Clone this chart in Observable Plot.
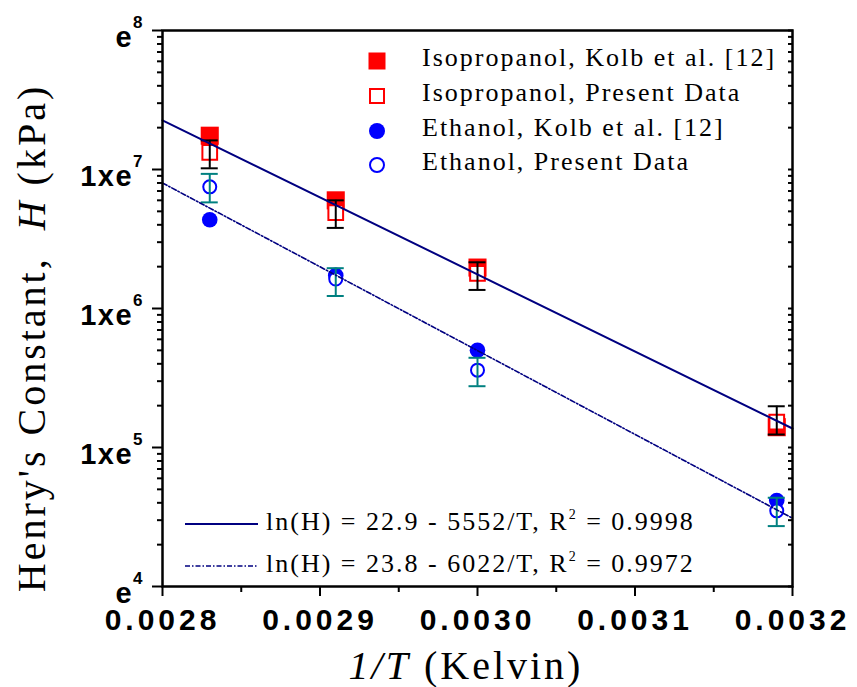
<!DOCTYPE html>
<html><head><meta charset="utf-8">
<script src="https://cdn.jsdelivr.net/npm/d3@7"></script>
<script src="https://cdn.jsdelivr.net/npm/@observablehq/plot@0.6"></script>
<style>body{margin:0;background:#fff}#chart svg{display:block}</style>
</head><body><div id="chart"></div>
<script>
// ---- data ----
const xValues = [0.00283, 0.00291, 0.00300, 0.00319];
const isoKolb = [1.75e7, 6.0e6, 1.97e6, 1.40e5];
const isoPresent = [1.33e7, 4.9e6, 1.79e6, 1.52e5];
const isoErrLow = [1.02e7, 3.8e6, 1.36e6, 1.24e5];
const isoErrHigh = [1.62e7, 6.0e6, 2.15e6, 1.98e5];
const ethKolb = [4.35e6, 1.73e6, 5.0e5, 4.15e4];
const ethPresent = [7.5e6, 1.63e6, 3.6e5, 3.5e4];
const ethErrLow = [5.8e6, 1.23e6, 2.76e5, 2.72e4];
const ethErrHigh = [9.3e6, 1.95e6, 4.42e5, 4.35e4];

const fitX = [0.0028, 0.0032];
const fitIso = [2.26e7, 1.37e5];
const fitEth = [8.0e6, 3.1e4];

const xTicks = [0.0028, 0.0029, 0.0030, 0.0031, 0.0032];
const xTickLabels = ["0.0028", "0.0029", "0.0030", "0.0031", "0.0032"];
const xMinorTicks = [0.00285, 0.00295, 0.00305, 0.00315];
const yTicks = [1e4, 1e5, 1e6, 1e7, 1e8];
const yTickBase = ["e", "1xe", "1xe", "1xe", "e"];
const yTickExp = ["4", "5", "6", "7", "8"];
const yMinorMantissa = [2, 3, 4, 5, 6, 7, 8, 9];
const yMinorDecades = [1e4, 1e5, 1e6, 1e7];

const legendLabels = ["Isopropanol, Kolb et al. [12]", "Isopropanol, Present Data", "Ethanol, Kolb et al. [12]", "Ethanol, Present Data"];
const fitLabels = [["ln(H) = 22.9 - 5552/T, R", "2", " = 0.9998"], ["ln(H) = 23.8 - 6022/T, R", "2", " = 0.9972"]];
const yTitle = ["Henry's Constant,  ", "H", " (kPa)"];
const xTitle = ["1/T", " (Kelvin)"];

// ---- build tables ----
const pts = xValues.map((x, i) => ({
  x, isoKolb: isoKolb[i], isoPresent: isoPresent[i], isoLo: isoErrLow[i], isoHi: isoErrHigh[i],
  ethKolb: ethKolb[i], ethPresent: ethPresent[i], ethLo: ethErrLow[i], ethHi: ethErrHigh[i]
}));
const fit1 = fitX.map((x, i) => ({x, y: fitIso[i]}));
const fit2 = fitX.map((x, i) => ({x, y: fitEth[i]}));
const yMinor = yMinorDecades.flatMap(d => yMinorMantissa.map(m => m * d));

const NAVY = "#000080", TEAL = "#008080";
const sans = "'Liberation Sans', Arial, sans-serif";
const serif = "'Liberation Serif', 'Times New Roman', serif";

const chart = Plot.plot({
  width: 857, height: 687,
  marginLeft: 162, marginRight: 65, marginTop: 30, marginBottom: 101,
  style: {background: "white", color: "black"},
  x: {domain: [0.0028, 0.0032], label: null},
  y: {type: "log", domain: [1e4, 1e8], label: null},
  marks: [
    Plot.axisX(xTicks, {tickSize: 10, strokeWidth: 2, tickPadding: 12,
      tickFormat: d => xTickLabels[xTicks.indexOf(d)], fontSize: 30, fontWeight: "bold", fontFamily: sans, label: null}),
    Plot.axisX(xMinorTicks, {tickSize: 6, strokeWidth: 2, tickFormat: () => "", label: null}),
    Plot.axisY(yTicks, {anchor: "left", tickSize: 10, strokeWidth: 2, tickPadding: 10,
      tickFormat: d => { const i = yTicks.indexOf(d); return yTickBase[i] + "|" + yTickExp[i]; },
      fontSize: 29, fontWeight: "bold", fontFamily: sans, label: null}),
    Plot.axisY(yMinor, {anchor: "left", tickSize: 5, strokeWidth: 2, tickFormat: () => "", label: null}),
    Plot.axisY(yTicks.concat(yMinor), {anchor: "right", tickSize: -5, strokeWidth: 2, tickFormat: () => "", label: null}),
    Plot.dot(pts, {x: "x", y: "isoKolb", symbol: "square", r: 10.2, fill: "#ff0000"}),
    Plot.dot(pts, {x: "x", y: "ethKolb", symbol: "circle", r: 7.8, fill: "#0000ff"}),
    Plot.dot(pts, {x: "x", y: "isoPresent", symbol: "square", r: 8.3, fill: "white", stroke: "#ff0000", strokeWidth: 2}),
    Plot.dot(pts, {x: "x", y: "ethPresent", symbol: "circle", r: 6.5, fill: "white", stroke: "#0000ff", strokeWidth: 2}),
    Plot.ruleX(pts, {x: "x", y1: "isoLo", y2: "isoHi", stroke: "black", strokeWidth: 2}),
    Plot.ruleY(pts, {y: "isoLo", x1: "x", x2: "x", insetLeft: -8.5, insetRight: -8.5, stroke: "black", strokeWidth: 2}),
    Plot.ruleY(pts, {y: "isoHi", x1: "x", x2: "x", insetLeft: -8.5, insetRight: -8.5, stroke: "black", strokeWidth: 2}),
    Plot.ruleX(pts, {x: "x", y1: "ethLo", y2: "ethHi", stroke: TEAL, strokeWidth: 2}),
    Plot.ruleY(pts, {y: "ethLo", x1: "x", x2: "x", insetLeft: -8.5, insetRight: -8.5, stroke: TEAL, strokeWidth: 2}),
    Plot.ruleY(pts, {y: "ethHi", x1: "x", x2: "x", insetLeft: -8.5, insetRight: -8.5, stroke: TEAL, strokeWidth: 2}),
    Plot.line(fit1, {x: "x", y: "y", stroke: NAVY, strokeWidth: 2}),
    Plot.line(fit2, {x: "x", y: "y", stroke: NAVY, strokeWidth: 1.6, strokeDasharray: "5,2,1.5,2"}),
    Plot.frame({stroke: "black", strokeWidth: 2.5})
  ]
});
document.getElementById("chart").appendChild(chart);

const svg = d3.select(chart);
// x tick label spacing
svg.selectAll('g[aria-label="x-axis tick label"] text').style("letter-spacing", "4px");
// y tick labels with superscripts
svg.selectAll('g[aria-label="y-axis tick label"] text').each(function () {
  const t = d3.select(this);
  const parts = t.text().split("|");
  if (parts.length < 2) return;
  t.text(null).attr("y", 16).attr("dy", null).attr("text-anchor", "end");
  t.append("tspan").text(parts[0]).style("letter-spacing", "1.5px");
  t.append("tspan").text(parts[1]).attr("font-size", 17).attr("dy", -19).style("letter-spacing", "0px");
});

// axis titles
const yt = svg.append("text").attr("transform", "translate(45,338) rotate(-90)")
  .attr("text-anchor", "middle").attr("font-family", serif).attr("font-size", 40)
  .style("letter-spacing", "3px").style("white-space", "pre").attr("fill", "black");
yt.append("tspan").text(yTitle[0]);
yt.append("tspan").text(yTitle[1]).attr("font-style", "italic");
yt.append("tspan").text(yTitle[2]);

const xt = svg.append("text").attr("transform", "translate(466,679)")
  .attr("text-anchor", "middle").attr("font-family", serif).attr("font-size", 40)
  .style("letter-spacing", "3px").style("white-space", "pre").attr("fill", "black");
xt.append("tspan").text(xTitle[0]).attr("font-style", "italic");
xt.append("tspan").text(xTitle[1]);

// top legend
const legRows = [61, 96, 131, 165];
const lg = svg.append("g");
lg.append("rect").attr("x", 377 - 8.5).attr("y", legRows[0] - 8.5).attr("width", 17).attr("height", 17).attr("fill", "#ff0000");
lg.append("rect").attr("x", 377 - 7).attr("y", legRows[1] - 7).attr("width", 14).attr("height", 14).attr("fill", "white").attr("stroke", "#ff0000").attr("stroke-width", 2);
lg.append("circle").attr("cx", 377).attr("cy", legRows[2]).attr("r", 8).attr("fill", "#0000ff");
lg.append("circle").attr("cx", 377).attr("cy", legRows[3]).attr("r", 7).attr("fill", "white").attr("stroke", "#0000ff").attr("stroke-width", 2);
legendLabels.forEach((s, i) => {
  lg.append("text").attr("x", 422).attr("y", legRows[i] + 5).attr("text-anchor", "start")
    .attr("font-family", serif).attr("font-size", 26)
    .style("letter-spacing", "2px").attr("fill", "black").text(s);
});

// fit legend
const fitRows = [524, 566];
const fg = svg.append("g");
fg.append("line").attr("x1", 185).attr("x2", 258).attr("y1", fitRows[0]).attr("y2", fitRows[0]).attr("stroke", NAVY).attr("stroke-width", 2);
fg.append("line").attr("x1", 185).attr("x2", 258).attr("y1", fitRows[1]).attr("y2", fitRows[1]).attr("stroke", NAVY).attr("stroke-width", 1.6).attr("stroke-dasharray", "5,2,1.5,2");
fitLabels.forEach((p, i) => {
  const t = fg.append("text").attr("x", 266).attr("y", fitRows[i] + 6).attr("text-anchor", "start")
    .attr("font-family", serif).attr("font-size", 26)
    .style("letter-spacing", "2px").style("white-space", "pre").attr("fill", "black");
  t.append("tspan").text(p[0]);
  t.append("tspan").text(p[1]).attr("font-size", 14).attr("dy", -11);
  t.append("tspan").text(p[2]).attr("dy", 11);
});
</script></body></html>
